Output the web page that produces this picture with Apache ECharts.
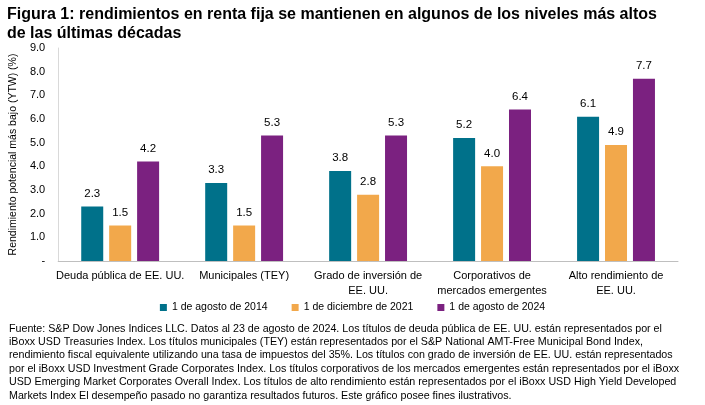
<!DOCTYPE html>
<html><head><meta charset="utf-8">
<script src="https://cdn.jsdelivr.net/npm/echarts@6/dist/echarts.min.js"></script>
<style>html,body{margin:0;padding:0;background:#fff}#c{width:705px;height:405px}</style>
</head><body><div id="c"></div>
<script>
const categories = ['Deuda pública de EE. UU.', 'Municipales (TEY)', 'Grado de inversión de\nEE. UU.', 'Corporativos de\nmercados emergentes', 'Alto rendimiento de\nEE. UU.'];
const seriesNames = ['1 de agosto de 2014', '1 de diciembre de 2021', '1 de agosto de 2024'];
const aug2014 = [2.3, 3.3, 3.8, 5.2, 6.1];
const dec2021 = [1.5, 1.5, 2.8, 4.0, 4.9];
const aug2024 = [4.2, 5.3, 5.3, 6.4, 7.7];
const colors = ['#00718a', '#f2a84b', '#7b2180'];
const FN = "'Liberation Sans',Arial,sans-serif";
const title = 'Figura 1: rendimientos en renta fija se mantienen en algunos de los niveles más altos\nde las últimas décadas';
const footnote = 'Fuente: S&P Dow Jones Indices LLC. Datos al 23 de agosto de 2024. Los títulos de deuda pública de EE. UU. están representados por el\niBoxx USD Treasuries Index. Los títulos municipales (TEY) están representados por el S&P National AMT-Free Municipal Bond Index,\nrendimiento fiscal equivalente utilizando una tasa de impuestos del 35%. Los títulos con grado de inversión de EE. UU. están representados\npor el iBoxx USD Investment Grade Corporates Index. Los títulos corporativos de los mercados emergentes están representados por el iBoxx\nUSD Emerging Market Corporates Overall Index. Los títulos de alto rendimiento están representados por el iBoxx USD High Yield Developed\nMarkets Index El desempeño pasado no garantiza resultados futuros. Este gráfico posee fines ilustrativos.';
const chart = echarts.init(document.getElementById('c'));
const data = [aug2014, dec2021, aug2024];
chart.setOption({
  animation: false,
  graphic: [
    {type:'text', left: 7, top: 5, style:{text: title, font: "bold 16px " + FN, fill:'#000', lineHeight: 19}},
    {type:'text', left: 9, top: 322, style:{text: footnote, font: "10.7px " + FN, fill:'#000', lineHeight: 13.4}}
  ],
  grid: {left: 55, right: 27, top: 48, bottom: 144, containLabel: false},
  legend: {
    data: seriesNames, top: 297, left: 'center', itemWidth: 7, itemHeight: 7, itemGap: 24,
    icon: 'rect', textStyle: {fontFamily: FN, fontSize: 10.5, color: '#000'}
  },
  xAxis: {
    type: 'category', data: categories,
    axisLine: {lineStyle: {color: '#bfbfbf'}}, axisTick: {show: false},
    axisLabel: {fontFamily: FN, fontSize: 11, color: '#000', margin: 7, lineHeight: 15, interval: 0}
  },
  yAxis: {
    type: 'value', min: 0, max: 9, interval: 1,
    name: 'Rendimiento potencial más bajo (YTW) (%)', nameLocation: 'middle', nameGap: 33,
    nameTextStyle: {fontFamily: FN, fontSize: 10.5, color: '#000'},
    axisLine: {show: true, lineStyle: {color: '#d9d9d9'}}, axisTick: {show: false}, splitLine: {show: false},
    axisLabel: {fontFamily: FN, fontSize: 11, color: '#000', margin: 13,
      formatter: v => v === 0 ? '-' : v.toFixed(1)}
  },
  series: data.map((d, i) => ({
    name: seriesNames[i], type: 'bar', data: d, barWidth: 22, barGap: '27%',
    itemStyle: {color: colors[i]},
    label: {show: true, position: 'top', distance: 7, fontFamily: FN, fontSize: 11.5, color: '#000',
      formatter: p => p.value.toFixed(1)}
  }))
});
</script></body></html>
